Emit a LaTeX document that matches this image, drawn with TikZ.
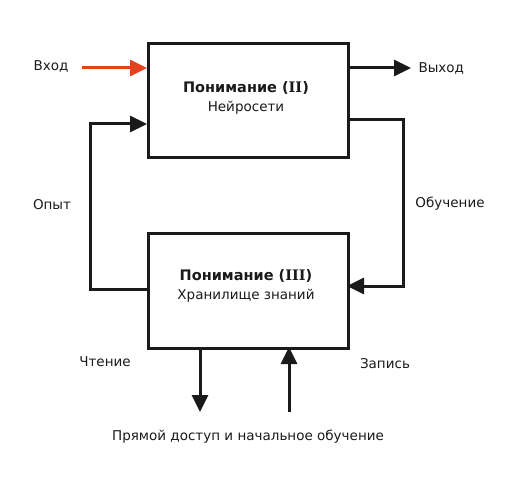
\documentclass[tikz,border=0pt]{standalone}
\usepackage{fontspec}
\setmainfont{DejaVu Sans}
\newfontfamily\romfont{DejaVu Serif}
\usetikzlibrary{arrows.meta}
\definecolor{ink}{HTML}{1A1A1A}
\definecolor{redin}{HTML}{E8401C}
\tikzset{
  box/.style={draw=ink, line width=3pt, minimum width=200pt, minimum height=114pt, anchor=north west, inner sep=0pt},
  conn/.style={draw=ink, line width=3pt, -{Triangle[length=17pt,width=16pt]}},
  lbl/.style={font=\fontsize{13.5}{19}\selectfont, text=ink},
}
\newcommand{\ttl}[2]{{\fontsize{14.5}{19}\selectfont\bfseries #1 ({\romfont #2})}}
\begin{document}
\begin{tikzpicture}[x=1pt,y=-1pt]
\useasboundingbox (0,0) rectangle (521,486);
\node[box] (top) at (147,42) {};
\node[box, minimum height=115pt] (bot) at (147,232) {};
\node[lbl, align=center] (toptxt) at (246,98) {\ttl{Понимание}{II}\\Нейросети};
\node[lbl, align=center] (bottxt) at (246,286) {\ttl{Понимание}{III}\\Хранилище знаний};
\coordinate (inS) at (82,68);
\coordinate (inE) at (147,68);
\coordinate (outE) at (411,68);
\node[lbl, anchor=west] (vyhod) at (415,69) {Выход};
\node[lbl] (vhod) at (51,67) {Вход};
\draw[conn, draw=redin, -{Triangle[length=17pt,width=16pt,fill=redin]}] (inS) -- (inE);
\draw[conn] (top.east |- outE) -- (outE);
% left loop
\coordinate (l1) at (147,289);
\coordinate (l2) at (90,289);
\coordinate (l3) at (90,124);
\coordinate (l4) at (147,124);
\draw[conn] (l1) -- (l2) -- (l3) -- (l4);
% right loop
\coordinate (r1) at (347,120);
\coordinate (r2) at (403,120);
\coordinate (r3) at (403,286);
\coordinate (r4) at (347,286);
\draw[conn] (r1) -- (r2) -- (r3) -- (r4);
\node[lbl] (opyt) at (52,205) {Опыт};
\node[lbl] (obuch) at (450,204) {Обучение};
% bottom arrows
\coordinate (d1) at (200,347);
\coordinate (d2) at (200,412);
\coordinate (u1) at (289,412);
\coordinate (u2) at (289,347);
\draw[conn] (d1) -- (d2);
\draw[conn] (u1) -- (u2);
\node[lbl] (chten) at (105,362) {Чтение};
\node[lbl] (zap) at (385,364) {Запись};
\node[lbl] (pr) at (248,437) {Прямой доступ и начальное обучение};
\end{tikzpicture}
\end{document}
